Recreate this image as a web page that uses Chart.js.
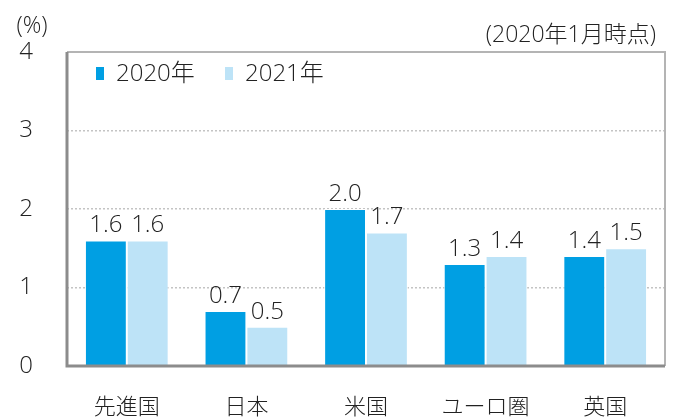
<!DOCTYPE html>
<html>
<head>
<meta charset="utf-8">
<script src="https://cdn.jsdelivr.net/npm/chart.js@4/dist/chart.umd.min.js"></script>
<style>
  html, body { margin: 0; padding: 0; background: #fff; }
  #wrap { width: 673px; height: 419px; }
</style>
</head>
<body>
<div id="wrap"><canvas id="myChart" width="673" height="419"></canvas></div>
<script>
const categories = ["先進国", "日本", "米国", "ユーロ圏", "英国"];
const seriesNames = ["2020年", "2021年"];
const values2020 = [1.6, 0.7, 2.0, 1.3, 1.4];
const values2021 = [1.6, 0.5, 1.7, 1.4, 1.5];
const yTicks = [0, 1, 2, 3, 4];
const unitLabel = "(%)";
const noteLabel = "(2020年1月時点)";

const FONT = '"Open Sans", "Noto Sans CJK JP", sans-serif';
const W = 300;
const colors = ["#009fe3", "#bde3f7"];

const decor = {
    id: 'decor',
    afterDatasetsDraw: (chart) => {
        const ctx = chart.ctx;
        const a = chart.chartArea;
        ctx.save();
        // frame
        ctx.strokeStyle = '#b4b4b4';
        ctx.lineWidth = 2;
        ctx.beginPath();
        ctx.moveTo(a.left, a.top);
        ctx.lineTo(a.right, a.top);
        ctx.lineTo(a.right, a.bottom);
        ctx.stroke();
        ctx.strokeStyle = '#8c8c8c';
        ctx.lineWidth = 3;
        ctx.beginPath();
        ctx.moveTo(a.left, a.top);
        ctx.lineTo(a.left, a.bottom);
        ctx.lineTo(a.right, a.bottom);
        ctx.stroke();

        // value labels
        ctx.fillStyle = '#222';
        ctx.font = W + ' 24px ' + FONT;
        ctx.textAlign = 'center';
        ctx.textBaseline = 'bottom';
        chart.data.datasets.forEach((ds, i) => {
            chart.getDatasetMeta(i).data.forEach((bar, j) => {
                ctx.fillText(ds.data[j].toFixed(1), bar.x, bar.y - 3);
            });
        });

        // legend
        ctx.textAlign = 'left';
        ctx.textBaseline = 'middle';
        const lx = [96, 225];
        chart.data.datasets.forEach((ds, i) => {
            ctx.fillStyle = colors[i];
            ctx.fillRect(lx[i], 67, 8, 13);
            ctx.fillStyle = '#222';
            ctx.fillText(ds.label, lx[i] + 20, 74);
        });

        // unit and note
        ctx.font = W + ' 23px ' + FONT;
        ctx.textAlign = 'center';
        ctx.fillText(unitLabel, 32, 26);
        ctx.textAlign = 'right';
        ctx.fillText(noteLabel, 656, 35);
        ctx.restore();
    }
};

const ctx = document.getElementById("myChart").getContext("2d");

const init = () => {
    new Chart(ctx, {
        type: "bar",
        plugins: [decor],
        data: {
            labels: categories,
            datasets: [{
                label: seriesNames[0],
                data: values2020,
                backgroundColor: colors[0],
                borderColor: '#ffffff',
                borderWidth: 1,
                categoryPercentage: 0.7,
                barPercentage: 1.0
            }, {
                label: seriesNames[1],
                data: values2021,
                backgroundColor: colors[1],
                borderColor: '#ffffff',
                borderWidth: 1,
                categoryPercentage: 0.7,
                barPercentage: 1.0
            }]
        },
        options: {
            responsive: false,
            animation: false,
            layout: { padding: { top: 52, right: 8, left: 0, bottom: 0 } },
            plugins: {
                legend: { display: false },
                tooltip: { enabled: false }
            },
            scales: {
                x: {
                    grid: { display: false, drawTicks: false },
                    border: { display: false },
                    ticks: {
                        color: '#222',
                        font: { family: FONT, size: 22, weight: W },
                        padding: 29,
                        maxRotation: 0
                    },
                    afterFit: (s) => { s.height = 53; }
                },
                y: {
                    min: 0,
                    max: 4,
                    afterBuildTicks: (s) => { s.ticks = yTicks.map(v => ({ value: v })); },
                    grid: {
                        drawTicks: false,
                        color: (c) => (c.tick.value === 0 || c.tick.value === 4) ? 'rgba(0,0,0,0)' : '#c4c4c4',
                        lineWidth: 1.5
                    },
                    border: { display: false, dash: [2, 2] },
                    ticks: {
                        color: '#222',
                        font: { family: FONT, size: 24, weight: W },
                        padding: 34
                    },
                    afterFit: (s) => { s.width = 67; }
                }
            }
        }
    });
};

init();
</script>
</body>
</html>
